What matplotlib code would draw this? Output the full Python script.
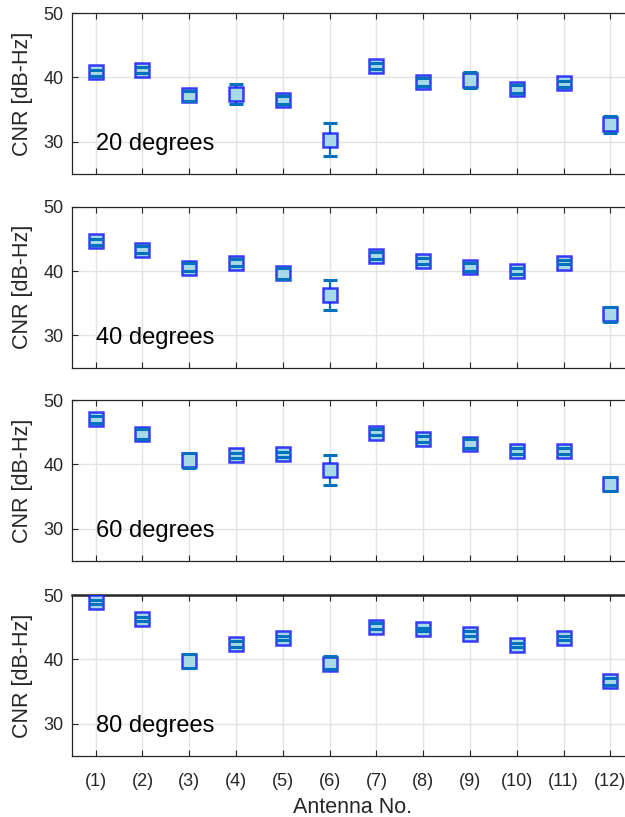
import numpy as np
import matplotlib.pyplot as plt

plt.rcParams['font.family'] = ['Liberation Sans', 'DejaVu Sans']

antennas = ["(1)", "(2)", "(3)", "(4)", "(5)", "(6)", "(7)", "(8)", "(9)", "(10)", "(11)", "(12)"]
elevations = ["20 degrees", "40 degrees", "60 degrees", "80 degrees"]

# centre of each box, lower and upper whisker cap
cnr_20 = [40.8, 41.2, 37.2, 37.4, 36.5, 30.35, 41.8, 39.3, 39.6, 38.15, 39.1, 32.8]
low_20 = [40.3, 40.7, 36.4, 35.9, 35.9, 27.8, 41.3, 38.7, 38.4, 37.6, 38.55, 31.4]
high_20 = [41.2, 41.7, 37.9, 39.0, 37.1, 32.9, 42.25, 39.95, 40.8, 38.9, 39.5, 34.05]

cnr_40 = [44.6, 43.3, 40.55, 41.3, 39.7, 36.3, 42.4, 41.6, 40.6, 40.05, 41.3, 33.3]
low_40 = [44.05, 42.8, 40.05, 40.8, 38.8, 34.0, 41.85, 41.1, 40.0, 39.55, 41.1, 32.15]
high_40 = [45.0, 43.85, 41.3, 41.9, 40.55, 38.6, 42.97, 42.05, 41.3, 40.45, 41.65, 34.45]

cnr_60 = [47.0, 44.7, 40.7, 41.45, 41.6, 39.2, 44.95, 44.0, 43.2, 42.1, 42.1, 37.0]
low_60 = [46.4, 44.0, 39.4, 41.0, 41.2, 36.8, 44.5, 43.55, 42.5, 41.55, 41.55, 35.9]
high_60 = [47.6, 45.5, 41.85, 41.8, 42.0, 41.5, 45.5, 44.35, 43.9, 42.5, 42.5, 38.1]

cnr_80 = [48.9, 46.25, 39.75, 42.4, 43.3, 39.3, 45.1, 44.7, 44.0, 42.2, 43.3, 36.6]
low_80 = [48.6, 45.9, 38.7, 41.95, 43.05, 38.5, 44.65, 44.35, 43.7, 41.85, 42.95, 36.1]
high_80 = [49.3, 46.65, 40.8, 42.8, 43.6, 40.5, 45.7, 44.95, 44.35, 42.6, 43.65, 37.05]

centres = [cnr_20, cnr_40, cnr_60, cnr_80]
lows = [low_20, low_40, low_60, low_80]
highs = [high_20, high_40, high_60, high_80]

x = np.arange(1, len(antennas) + 1)
dark = '#262626'
line_blue = '#0072BD'

fig = plt.figure(figsize=(6.25, 8.17), dpi=100)
bottoms = [0.787, 0.550, 0.3133, 0.0747]

for i in range(4):
    ax = fig.add_axes([0.1157, bottoms[i], 0.8982, 0.197])
    c = np.array(centres[i])
    lo = np.array(lows[i])
    hi = np.array(highs[i])

    ax.vlines(x, lo, hi, color=line_blue, lw=1.6, zorder=2)
    ax.plot(x, c, linestyle='none', marker='s', markersize=10.3,
            markerfacecolor='#A6DAE6', markeredgecolor=(0.05, 0.05, 1.0, 0.8),
            markeredgewidth=1.8, zorder=3)
    ax.plot(x, lo, linestyle='none', marker='_', markersize=9.5,
            markeredgewidth=2.2, color=line_blue, zorder=4)
    ax.plot(x, hi, linestyle='none', marker='_', markersize=9.5,
            markeredgewidth=2.2, color=line_blue, zorder=4)

    ax.text(1, 28.7, elevations[i], fontsize=17, ha='left', va='baseline', color='black')

    ax.set_xlim(0.5, 12.5)
    ax.set_ylim(25, 50)
    ax.set_yticks([30, 40, 50])
    ax.set_xticks(x)
    ax.grid(True, color='#E3E3E3', lw=1.0)
    ax.set_axisbelow(True)
    ax.tick_params(direction='in', top=True, right=True, length=4.5,
                   colors=dark, labelsize=13, width=0.8)
    ax.tick_params(axis='y', pad=6.5)
    ax.tick_params(axis='x', pad=12)
    for s in ax.spines.values():
        s.set_color(dark)
        s.set_linewidth(0.9)
    ax.set_ylabel("CNR [dB-Hz]", fontsize=15.5, color=dark, labelpad=7)

    if i == 3:
        ax.set_xticklabels(antennas)
        ax.set_xlabel("Antenna No.", fontsize=15.5, color=dark, labelpad=5)
        ax.spines['top'].set_linewidth(1.8)
    else:
        ax.set_xticklabels([])

fig.savefig("out.png", dpi=100)
